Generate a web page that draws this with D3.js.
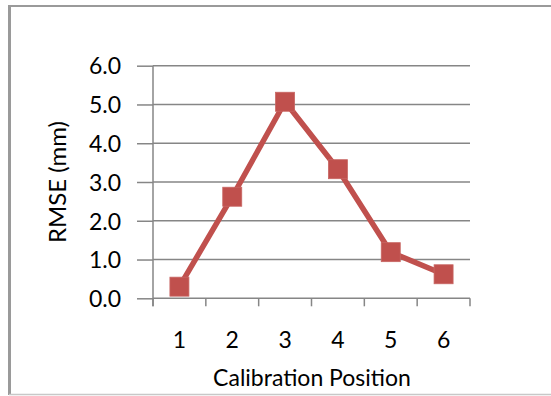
<!DOCTYPE html>
<html>
<head>
<meta charset="utf-8">
<script src="https://cdn.jsdelivr.net/npm/d3@7/dist/d3.min.js"></script>
<style>
  html, body { margin: 0; padding: 0; background: #fff; }
  svg { display: block; }
  svg text { font-family: Lato, "Open Sans", sans-serif; fill: #000; }
</style>
</head>
<body>
<svg id="chart" width="551" height="396"></svg>
<script>
// Calibration positions and the RMSE measured at each one
const positions = ["1", "2", "3", "4", "5", "6"];
const rmse = [0.30, 2.62, 5.07, 3.33, 1.19, 0.62];
const yTicks = [0, 1, 2, 3, 4, 5, 6];
const xTitle = "Calibration Position";
const yTitle = "RMSE (mm)";

const svg = d3.select("#chart");
const W = 551, H = 396;
const plot = { left: 153, right: 470, top: 65.7, bottom: 298.3 };
const lineColor = "#C0504D";
const axisColor = "#868686";
const fontSize = 23;

// Chart frame
svg.append("rect").attr("x", 0).attr("y", 0).attr("width", W).attr("height", H).attr("fill", "#fff");
svg.append("line").attr("x1", 9.5).attr("x2", W).attr("y1", 6).attr("y2", 6)
  .attr("stroke", "#9a9a9a").attr("stroke-width", 2);
svg.append("line").attr("x1", 9.5).attr("x2", 9.5).attr("y1", 5).attr("y2", 395)
  .attr("stroke", "#9a9a9a").attr("stroke-width", 3);
svg.append("line").attr("x1", 9).attr("x2", W).attr("y1", 394.5).attr("y2", 394.5)
  .attr("stroke", "#c8c8c8").attr("stroke-width", 1.5);

const x = d3.scaleBand().domain(positions).range([plot.left, plot.right]).padding(0);
const y = d3.scaleLinear().domain([0, 6]).range([plot.bottom, plot.top]);

// Horizontal gridlines
svg.append("g").selectAll("line").data(yTicks.slice(1)).join("line")
  .attr("x1", plot.left).attr("x2", plot.right)
  .attr("y1", d => y(d)).attr("y2", d => y(d))
  .attr("stroke", axisColor).attr("stroke-width", 1.5);

// Y axis with outside ticks and one-decimal labels
const yAxis = svg.append("g").attr("transform", `translate(${plot.left},0)`)
  .call(d3.axisLeft(y).tickValues(yTicks).tickSize(16).tickPadding(16).tickFormat(d3.format(".1f")));
yAxis.attr("font-family", null).attr("font-size", null);
yAxis.select(".domain").attr("stroke", axisColor).attr("stroke-width", 1.5)
  .attr("d", `M0,${plot.top}V${plot.bottom + 8}`);
yAxis.selectAll(".tick line").attr("stroke", axisColor).attr("stroke-width", 1.5);
yAxis.selectAll(".tick text").style("font-size", fontSize + "px").attr("dy", "0.36em").attr("fill", "#000");

// X axis baseline, with tick marks on the category boundaries
const xg = svg.append("g");
xg.append("line").attr("x1", plot.left).attr("x2", plot.right)
  .attr("y1", plot.bottom).attr("y2", plot.bottom)
  .attr("stroke", axisColor).attr("stroke-width", 1.5);
const bounds = positions.map(p => x(p)).concat([x(positions[positions.length - 1]) + x.bandwidth()]);
xg.selectAll(".xt").data(bounds).join("line").attr("class", "xt")
  .attr("x1", d => d).attr("x2", d => d)
  .attr("y1", plot.bottom).attr("y2", plot.bottom + 8)
  .attr("stroke", axisColor).attr("stroke-width", 1.5);

// Category labels
const xAxis = svg.append("g").attr("transform", `translate(0,${plot.bottom})`)
  .call(d3.axisBottom(x).tickSize(0).tickPadding(0));
xAxis.attr("font-family", null).attr("font-size", null);
xAxis.select(".domain").remove();
xAxis.selectAll(".tick text").style("font-size", fontSize + "px").attr("y", 50).attr("dy", 0).attr("fill", "#000");

// Axis titles
svg.append("text").attr("x", (plot.left + plot.right) / 2 + 0.5).attr("y", 386)
  .attr("text-anchor", "middle").style("font-size", fontSize + "px").text(xTitle);
svg.append("text").attr("transform", `translate(66,${(plot.top + plot.bottom) / 2}) rotate(-90)`)
  .attr("text-anchor", "middle").style("font-size", (fontSize + 1) + "px").text(yTitle);

// Series line and square markers
const cx = d => x(d.p) + x.bandwidth() / 2;
const pts = positions.map((p, i) => ({ p, v: rmse[i] }));
svg.append("path").datum(pts)
  .attr("fill", "none").attr("stroke", lineColor).attr("stroke-width", 5.5)
  .attr("stroke-linejoin", "round")
  .attr("d", d3.line().x(cx).y(d => y(d.v)));
const m = 19;
svg.append("g").selectAll("rect").data(pts).join("rect")
  .attr("x", d => cx(d) - m / 2).attr("y", d => y(d.v) - m / 2)
  .attr("width", m).attr("height", m)
  .attr("fill", lineColor).attr("stroke", "#c86663").attr("stroke-width", 0.8);
</script>
</body>
</html>
